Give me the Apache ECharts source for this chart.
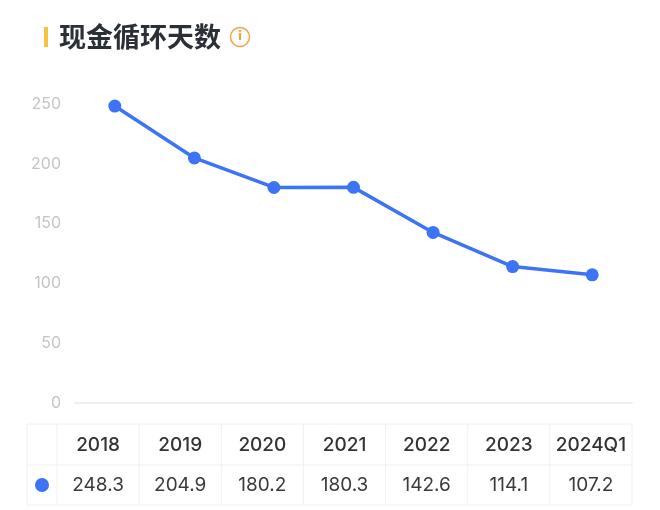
<!DOCTYPE html>
<html>
<head>
<meta charset="utf-8">
<script src="https://cdn.jsdelivr.net/npm/echarts@6/dist/echarts.min.js"></script>
<style>
  html, body { margin: 0; padding: 0; background: #fff; }
  #main { width: 660px; height: 510px; }
</style>
</head>
<body>
<div id="main"></div>
<script>
// 数据
const title = '现金循环天数';
const categories = ['2018', '2019', '2020', '2021', '2022', '2023', '2024Q1'];
const values = [248.3, 204.9, 180.2, 180.3, 142.6, 114.1, 107.2];
const yTicks = [0, 50, 100, 150, 200, 250];

const lineColor = '#3d73f5';
const font = 'Inter, "Noto Sans CJK SC", sans-serif';

// 表格布局
const tbl = { left: 27, right: 632, top: 424, mid: 465, bottom: 505, firstCol: 57 };
const colW = (tbl.right - tbl.firstCol) / categories.length;

function tableGraphics () {
    const els = [];
    const border = { stroke: '#f0f0f0', lineWidth: 1 };
    // 横线
    [tbl.top, tbl.mid, tbl.bottom].forEach(y => {
        els.push({ type: 'line', shape: { x1: tbl.left, y1: y, x2: tbl.right, y2: y }, style: border, silent: true });
    });
    // 竖线
    els.push({ type: 'line', shape: { x1: tbl.left, y1: tbl.top, x2: tbl.left, y2: tbl.bottom }, style: border });
    for (let i = 0; i <= categories.length; i++) {
        const x = tbl.firstCol + i * colW;
        els.push({ type: 'line', shape: { x1: x, y1: tbl.top, x2: x, y2: tbl.bottom }, style: border });
    }
    // 图例圆点
    els.push({
        type: 'circle',
        shape: { cx: (tbl.left + tbl.firstCol) / 2, cy: (tbl.mid + tbl.bottom) / 2, r: 7 },
        style: { fill: lineColor }
    });
    categories.forEach((c, i) => {
        const cx = tbl.firstCol + (i + 0.5) * colW;
        els.push({
            type: 'text', x: cx, y: (tbl.top + tbl.mid) / 2 + 1,
            style: { text: c, fill: '#333', font: '500 19px ' + font, textAlign: 'center', textVerticalAlign: 'middle' }
        });
        els.push({
            type: 'text', x: cx, y: (tbl.mid + tbl.bottom) / 2,
            style: { text: String(values[i]), fill: '#3a3a3a', font: '19px ' + font, textAlign: 'center', textVerticalAlign: 'middle' }
        });
    });
    return els;
}

const myChart = echarts.init(document.getElementById('main'));
myChart.setOption({
    animation: false,
    grid: { left: 75, right: 28, top: 104, bottom: 107 },
    xAxis: {
        type: 'category',
        data: categories,
        boundaryGap: true,
        axisLine: { show: true, lineStyle: { color: '#eeeeee', width: 2 } },
        axisTick: { show: false },
        axisLabel: { show: false }
    },
    yAxis: {
        type: 'value',
        min: yTicks[0],
        max: yTicks[yTicks.length - 1],
        interval: 50,
        splitLine: { show: false },
        axisLine: { show: false },
        axisTick: { show: false },
        axisLabel: { color: '#c4c4c4', fontSize: 16, margin: 14, fontFamily: font }
    },
    series: [{
        type: 'line',
        data: values,
        symbol: 'circle',
        symbolSize: 13,
        lineStyle: { color: lineColor, width: 3.5 },
        itemStyle: { color: lineColor }
    }],
    graphic: [
        { type: 'rect', shape: { x: 44, y: 27, width: 4, height: 20 }, style: { fill: '#f7c23c' } },
        {
            type: 'text', x: 59, y: 37,
            style: { text: title, fill: '#2b2f36', font: 'bold 27px "Noto Sans CJK SC", sans-serif', textVerticalAlign: 'middle' }
        },
        { type: 'circle', shape: { cx: 240, cy: 37, r: 9.5 }, style: { fill: 'none', stroke: '#f0a24e', lineWidth: 1.5 } },
        {
            type: 'text', x: 240, y: 37,
            style: { text: 'i', fill: '#f0a24e', font: 'bold 13px "DejaVu Sans", sans-serif', textAlign: 'center', textVerticalAlign: 'middle' }
        },
        ...tableGraphics()
    ]
});
</script>
</body>
</html>
